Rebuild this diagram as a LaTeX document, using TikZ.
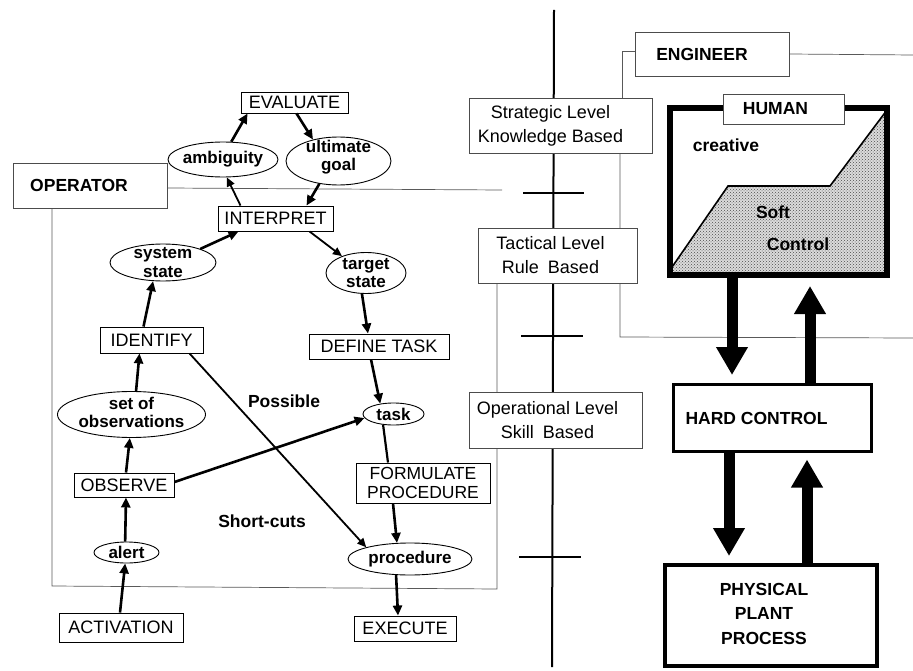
\documentclass[tikz,border=0pt]{standalone}
\usepackage{fontspec}
\setmainfont{Liberation Sans}
\usetikzlibrary{arrows.meta,shapes.geometric,patterns,calc,backgrounds}

\begin{document}
\begin{tikzpicture}[x=1pt,y=-1pt,
  flowbox/.style={draw, line width=0.9pt, fill=white, inner sep=0pt,
    font=\fontsize{18}{20}\selectfont, align=center},
  oval/.style={ellipse, draw, line width=0.9pt, fill=white, inner sep=0pt},
  ovaltxt/.style={inner sep=0pt, font=\bfseries\fontsize{17}{18.5}\selectfont, align=center},
  levelbox/.style={draw=black!70, line width=0.8pt, fill=white, inner sep=0pt},
  leveltxt/.style={inner sep=0pt, font=\fontsize{18}{24}\selectfont, align=center},
  tagbox/.style={draw=black!70, line width=0.8pt, fill=white, inner sep=0pt},
  boldtxt/.style={inner sep=0pt, font=\bfseries\fontsize{17.5}{24.5}\selectfont, align=center},
  flow/.style={line width=2.6pt, -{Triangle[length=10pt,width=9pt]}},
  flowthin/.style={line width=1.8pt, -{Triangle[length=9pt,width=8pt]}},
  plainflow/.style={line width=2.2pt},
  region/.style={draw=black!65, line width=0.7pt},
  tick/.style={line width=2pt},
  bigflow/.style={line width=11pt, -{Triangle[length=28pt,width=30pt]}},
]
\useasboundingbox (0,0) rectangle (913,671);

% ---- level axis with its tick marks
\coordinate (axtop) at (554,10);
\coordinate (axbot) at (552,667);
\draw[line width=2pt] (axtop) -- (axbot);
\coordinate (tk1) at (553,193);
\coordinate (tk2) at (552,336);
\coordinate (tk3) at (550,557);
\draw[tick] ([xshift=-30pt]tk1) -- ([xshift=31pt]tk1);
\draw[tick] ([xshift=-31pt]tk2) -- ([xshift=31pt]tk2);
\draw[tick] ([xshift=-31pt]tk3) -- ([xshift=31pt]tk3);

% ---- level boxes
\node[levelbox, minimum width=183pt, minimum height=55pt,
  label={[leveltxt, xshift=-10pt]center:{Strategic Level\\Knowledge Based}}]
  (strategic) at (560.5,125.5) {};
\node[levelbox, minimum width=159pt, minimum height=55pt,
  label={[leveltxt, xshift=-7pt]center:{Tactical Level\\Rule\enspace Based}}]
  (tactical) at (557.5,255.5) {};
\node[levelbox, minimum width=173pt, minimum height=56pt,
  label={[leveltxt, xshift=-8pt]center:{Operational Level\\Skill\enspace Based}}]
  (operational) at (555.5,420) {};

% ---- ENGINEER and OPERATOR tags
\node[tagbox, minimum width=154pt, minimum height=44pt,
  label={[boldtxt, xshift=-10pt]center:ENGINEER}] (engineer) at (712,54) {};
\node[tagbox, minimum width=154pt, minimum height=45pt,
  label={[boldtxt, xshift=-11pt]center:OPERATOR}] (operator) at (90,185.5) {};

% region outlines, kept behind the boxes
\coordinate (engL) at (622,51);
\coordinate (engR) at (913,55);
\coordinate (engB) at (620,337);
\coordinate (engBR) at (913,338);
\coordinate (opR) at (502,190);
\coordinate (opBL) at (52,586);
\coordinate (opBR) at (497,589);
\begin{scope}[on background layer]
\draw[region] ([yshift=3pt]engineer.west) -- (engL) -- (engL |- strategic.north);
\draw[region] (engineer.east) -- (engR);
\draw[region] (strategic.south -| engB) -- (engB) -- (engBR);
\draw[region] ([yshift=-2.5pt]operator.east) -- (opR);
\draw[region] (operator.south -| opBL) -- (opBL) -- (opBR) -- (opBR |- tactical.south);
\end{scope}

% ---- decision ladder
\node[flowbox, minimum width=107pt, minimum height=21pt] (eval) at (294.5,102.5) {EVALUATE};
\node[oval, minimum width=110pt, minimum height=35pt,
  label={[ovaltxt]center:ambiguity}] (amb) at (223,159.5) {};
\node[oval, minimum width=105pt, minimum height=48pt,
  label={[ovaltxt, yshift=4pt]center:{ultimate\\goal}}] (goal) at (338.5,161) {};
\node[flowbox, minimum width=115pt, minimum height=25pt] (interp) at (275.5,218.5) {INTERPRET};
\node[oval, minimum width=106pt, minimum height=37pt,
  label={[ovaltxt]center:{system\\state}}] (sys) at (163,262.5) {};
\node[oval, minimum width=80pt, minimum height=41pt,
  label={[ovaltxt]center:{target\\state}}] (tgt) at (366,273) {};
\node[flowbox, minimum width=103pt, minimum height=26pt] (ident) at (151.5,340) {IDENTIFY};
\node[flowbox, minimum width=140pt, minimum height=25pt] (deftask) at (379,346.5) {DEFINE TASK};
\node[oval, minimum width=148pt, minimum height=46pt,
  label={[ovaltxt, yshift=2pt]center:{set of\\observations}}] (obs) at (131.5,414.5) {};
\node[oval, minimum width=61pt, minimum height=22pt,
  label={[ovaltxt]center:task}] (task) at (393.5,414) {};
\node[flowbox, minimum width=100pt, minimum height=24pt] (observe) at (124,485) {OBSERVE};
\node[flowbox, minimum width=134pt, minimum height=40pt,
  font=\fontsize{17.5}{19.5}\selectfont] (formulate) at (423,483) {FORMULATE\\PROCEDURE};
\node[oval, minimum width=65pt, minimum height=21pt,
  label={[ovaltxt]center:alert}] (alert) at (126.5,552.5) {};
\node[oval, minimum width=124pt, minimum height=32pt,
  label={[ovaltxt]center:procedure}] (proc) at (410,559) {};
\node[flowbox, minimum width=124pt, minimum height=29pt] (activ) at (121,627.5) {ACTIVATION};
\node[flowbox, minimum width=102pt, minimum height=25pt] (exec) at (405,628.5) {EXECUTE};

\node[boldtxt] (possible) at (284,401) {Possible};
\node[boldtxt] (shortcuts) at (262,521) {Short-cuts};

% ---- ladder connectors
\draw[flow] (amb.65) -- ([xshift=7pt]eval.south west);
\draw[flow] ([xshift=2pt]eval.south) -- (goal.140);
\draw[flow] (goal.230) -- ([xshift=31pt]interp.north);
\draw[flowthin] ([xshift=-35pt]interp.north) -- (amb.282);
\draw[flow] (sys.20) -- ([xshift=-37pt]interp.south);
\draw[flowthin] ([xshift=34pt]interp.south) -- (tgt.145);
\draw[flow] ([xshift=-8pt]ident.north) -- (sys.242);
\draw[flow] (tgt.259) -- ([xshift=-11pt]deftask.north);
\draw[flow] (obs.79) -- ([xshift=-12pt]ident.south);
\draw[flow] ([xshift=-8pt]deftask.south) -- (task.142);
\draw[flow] ([xshift=2pt]observe.north) -- (obs.266);
\draw[flow] ([yshift=3pt]observe.east) -- (task.188);
\draw[flowthin] ([xshift=38pt]ident.south) -- (proc.165);
\draw[plainflow] (task.226) -- ([xshift=-35pt]formulate.north);
\draw[flow] ([xshift=-30pt]formulate.south) -- (proc.129);
\draw[flow] (alert.97) -- ([xshift=2pt]observe.south);
\draw[flow] ([xshift=-1pt]activ.north) -- (alert.263);
\draw[flow] (proc.229) -- ([xshift=-7pt]exec.north);

% ---- control hierarchy
\fill[black!14]
  (670,270) -- (728,186) -- (830,186) -- (887,110) -- (887,275) -- (670,275) -- cycle;
\fill[pattern=crosshatch dots, pattern color=black!70]
  (670,270) -- (728,186) -- (830,186) -- (887,110) -- (887,275) -- (670,275) -- cycle;
\draw[line width=1.6pt] (670,270) -- (728,186) -- (830,186) -- (887,110);
\node[draw, line width=6pt, minimum width=217pt, minimum height=167pt, inner sep=0pt]
  (human) at (778.5,191.5) {};
\node[tagbox, minimum width=121pt, minimum height=30pt,
  label={[boldtxt, xshift=-8pt]center:HUMAN}] (humantag) at (783.5,109) {};
\node[boldtxt] (creative) at (726,145) {creative};
\node[boldtxt] (soft) at (773,212) {Soft};
\node[boldtxt] (control) at (798,244) {Control};

\node[draw, line width=3pt, minimum width=198pt, minimum height=67pt, inner sep=0pt,
  label={[boldtxt, xshift=-16pt]center:HARD CONTROL}] (hard) at (772.5,418) {};
\node[draw, line width=4pt, minimum width=212pt, minimum height=101pt, inner sep=0pt,
  label={[boldtxt, xshift=-7pt, yshift=2pt]center:{PHYSICAL\\PLANT\\PROCESS}}] (plant) at (771,615.5) {};

\draw[bigflow, shorten >=8pt] ([xshift=-46.5pt]human.south) -- ([xshift=-40.5pt]hard.north);
\draw[bigflow, shorten >=8pt] ([xshift=37.5pt]hard.north) -- ([xshift=31.5pt]human.south);
\draw[bigflow, shorten >=7pt] ([xshift=-43.5pt]hard.south) -- ([xshift=-42pt]plant.north);
\draw[bigflow, shorten >=6.5pt] ([xshift=36pt]plant.north) -- ([xshift=34.5pt]hard.south);
\end{tikzpicture}
\end{document}
